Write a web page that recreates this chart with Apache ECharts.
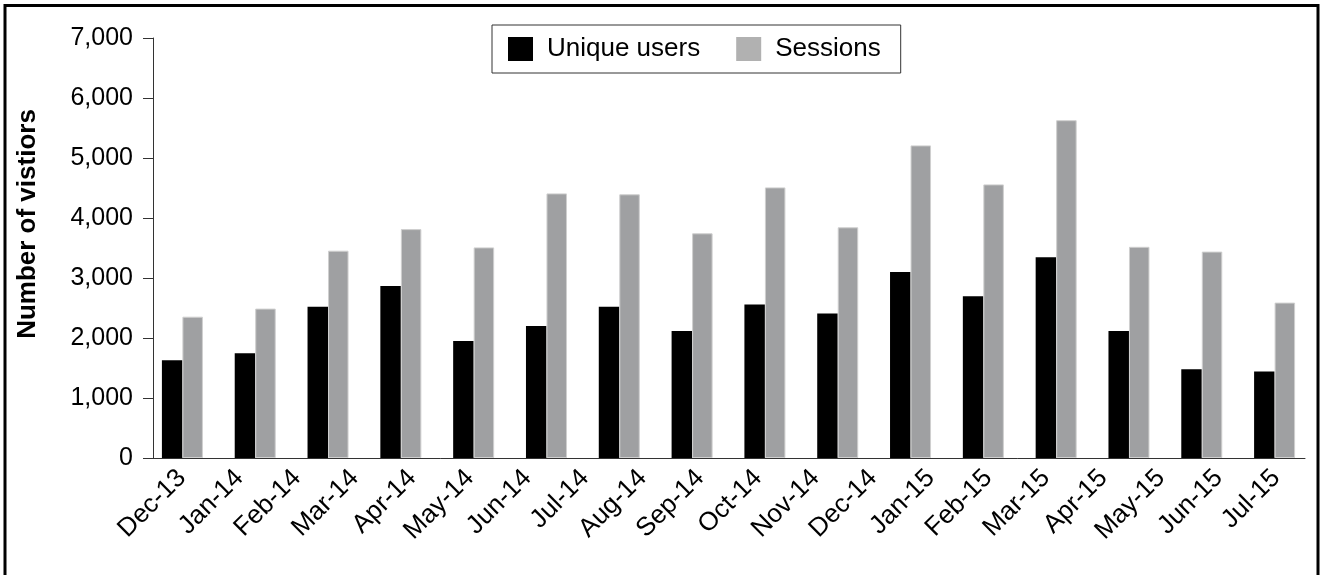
<!DOCTYPE html>
<html>
<head>
<meta charset="utf-8">
<script src="https://cdn.jsdelivr.net/npm/echarts@6/dist/echarts.min.js"></script>
<style>
  html, body { margin: 0; padding: 0; background: #fff; }
  #chart { width: 1320px; height: 575px; }
</style>
</head>
<body>
<div id="chart"></div>
<script>
// axis labels (20 months shown under the chart)
var months = ['Dec-13', 'Jan-14', 'Feb-14', 'Mar-14', 'Apr-14', 'May-14', 'Jun-14', 'Jul-14',
    'Aug-14', 'Sep-14', 'Oct-14', 'Nov-14', 'Dec-14', 'Jan-15', 'Feb-15', 'Mar-15',
    'Apr-15', 'May-15', 'Jun-15', 'Jul-15'];
// the bars only come in 16 groups
var barSlots = ['1', '2', '3', '4', '5', '6', '7', '8', '9', '10', '11', '12', '13', '14', '15', '16'];
var uniqueUsers = [1630, 1745, 2520, 2865, 1950, 2200, 2520, 2115, 2560, 2410, 3100, 2695, 3345, 2115, 1480, 1440];
var sessions = [2355, 2490, 3455, 3815, 3510, 4410, 4395, 3745, 4510, 3845, 5210, 4560, 5630, 3520, 3440, 2590];

var FONT = "'Liberation Sans', Arial, sans-serif";

var chart = echarts.init(document.getElementById('chart'));
chart.setOption({
    animation: false,
    backgroundColor: '#fff',
    textStyle: { fontFamily: FONT },
    legend: {
        left: 492,
        top: 25,
        padding: [11, 20, 11, 16],
        borderColor: '#333',
        borderWidth: 1,
        itemWidth: 25,
        itemHeight: 24,
        itemGap: 36,
        icon: 'rect',
        textStyle: { fontSize: 26, color: '#000', fontFamily: FONT, padding: [0, 0, 0, 9] },
        data: [
            { name: 'Unique users', itemStyle: { color: '#000', borderWidth: 0 } },
            { name: 'Sessions', itemStyle: { color: '#b1b1b1', borderWidth: 0 } }
        ]
    },
    grid: [
        // visible axes
        { left: 153, right: 15, top: 38, height: 420 },
        // bar placement
        { left: 146, right: 9, top: 38, height: 420 }
    ],
    xAxis: [
        {
            gridIndex: 0,
            type: 'category',
            data: months,
            boundaryGap: true,
            axisLine: { lineStyle: { color: '#333', width: 1 } },
            axisTick: { length: 12, lineStyle: { color: '#333' } },
            axisLabel: { rotate: 45, margin: 16, fontSize: 26, color: '#000', fontFamily: FONT, interval: 0 }
        },
        {
            gridIndex: 1,
            type: 'category',
            data: barSlots,
            show: false
        }
    ],
    yAxis: [
        {
            gridIndex: 0,
            type: 'value',
            min: 0,
            max: 7000,
            interval: 1000,
            splitLine: { show: false },
            axisLine: { show: true, lineStyle: { color: '#333', width: 1 } },
            axisTick: { show: true, length: 10, lineStyle: { color: '#333' } },
            axisLabel: {
                margin: 20, fontSize: 25, color: '#000', fontFamily: FONT,
                formatter: function (v) { return v.toLocaleString('en-US'); }
            }
        },
        {
            gridIndex: 1,
            type: 'value',
            min: 0,
            max: 7000,
            show: false
        }
    ],
    series: [
        {
            name: 'Unique users',
            type: 'bar',
            xAxisIndex: 1,
            yAxisIndex: 1,
            barWidth: 20.5,
            barGap: '0%',
            itemStyle: { color: '#000' },
            data: uniqueUsers
        },
        {
            name: 'Sessions',
            type: 'bar',
            xAxisIndex: 1,
            yAxisIndex: 1,
            barWidth: 20.5,
            barGap: '0%',
            itemStyle: { color: '#9fa0a2', borderColor: '#cfcfcf', borderWidth: 1 },
            data: sessions
        }
    ],
    graphic: [
        {
            type: 'text',
            x: 28,
            y: 224,
            rotation: Math.PI / 2,
            style: {
                text: 'Number of vistiors',
                font: "bold 26px 'Liberation Sans', Arial, sans-serif",
                fill: '#000',
                align: 'center',
                verticalAlign: 'middle'
            }
        },
        {
            type: 'rect',
            shape: { x: 5, y: 5.5, width: 1313, height: 620 },
            style: { fill: 'none', stroke: '#000', lineWidth: 3 },
            silent: true
        }
    ]
});
</script>
</body>
</html>
